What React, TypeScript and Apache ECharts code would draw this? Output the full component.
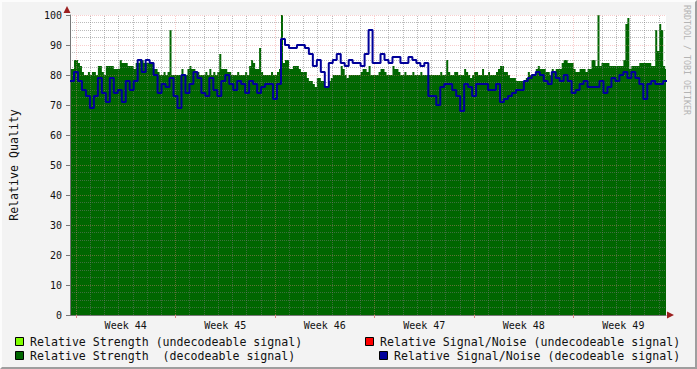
import React, { useEffect, useRef } from "react";
import * as echarts from "echarts";

// Week labels on the time axis
const WEEKS = ["Week 44", "Week 45", "Week 46", "Week 47", "Week 48", "Week 49"];

// Relative Strength (decodeable signal) – one value per sample (fine sampling)
const GREEN = [
  82, 82, 85, 85, 84, 83, 81, 80, 80, 81, 80, 81, 81, 80, 83, 83, 81, 80, 83, 83,
  83, 83, 82, 82, 82, 85, 84, 84, 84, 83, 83, 83, 82, 84, 84, 85, 85, 84, 84, 84,
  84, 84, 82, 82, 81, 80, 80, 81, 80, 81, 95, 80, 80, 80, 80, 80, 82, 80, 80, 82,
  83, 82, 82, 81, 81, 80, 80, 80, 81, 80, 82, 80, 81, 80, 81, 87, 82, 82, 82, 81,
  81, 80, 80, 80, 81, 80, 80, 80, 81, 80, 83, 85, 84, 82, 82, 89, 81, 80, 80, 80,
  80, 81, 80, 80, 81, 82, 100, 84, 85, 85, 82, 82, 83, 83, 83, 82, 81, 81, 81, 79,
  78, 78, 77, 76, 79, 79, 78, 78, 76, 76, 78, 79, 80, 80, 80, 80, 83, 82, 80, 79,
  80, 80, 80, 80, 80, 80, 81, 82, 82, 81, 83, 80, 80, 80, 80, 81, 82, 82, 81, 80,
  80, 80, 83, 82, 82, 81, 80, 80, 81, 80, 80, 80, 81, 80, 80, 80, 81, 80, 80, 80,
  80, 80, 80, 80, 80, 80, 81, 80, 80, 85, 81, 80, 80, 81, 81, 80, 80, 80, 82, 81,
  80, 79, 80, 81, 81, 80, 80, 82, 80, 80, 81, 80, 80, 80, 81, 82, 83, 83, 81, 81,
  80, 79, 79, 79, 78, 78, 78, 78, 78, 79, 81, 80, 80, 80, 82, 83, 82, 82, 82, 81,
  81, 80, 82, 81, 82, 82, 82, 84, 85, 85, 84, 84, 84, 82, 81, 81, 82, 82, 82, 81,
  82, 82, 85, 85, 83, 100, 83, 84, 84, 84, 84, 83, 83, 83, 83, 83, 83, 83, 85, 97,
  99, 82, 83, 83, 83, 83, 84, 84, 84, 84, 84, 84, 83, 83, 95, 88, 97, 95, 83, 82,
];

// Relative Signal/Noise (decodeable signal)
const BLUE = [
  78, 81, 78, 75, 73, 69, 73, 79, 74, 71,
  79, 74, 75, 71, 78, 75, 78, 85, 81, 85,
  84, 80, 74, 77, 76, 79, 73, 69, 80, 74,
  77, 81, 79, 74, 73, 79, 75, 73, 78, 80,
  77, 75, 78, 77, 74, 78, 77, 74, 76, 77,
  77, 72, 77, 92, 90, 89, 89, 90, 90, 89,
  87, 83, 85, 81, 76, 84, 85, 87, 84, 83,
  85, 84, 84, 83, 87, 95, 84, 84, 87, 85,
  84, 86, 86, 84, 84, 86, 85, 84, 83, 84,
  73, 73, 70, 76, 77, 77, 75, 73, 68, 77,
  76, 73, 77, 77, 77, 75, 75, 77, 71, 72,
  73, 74, 75, 75, 78, 79, 80, 81, 80, 78,
  77, 81, 79, 78, 80, 78, 74, 75, 77, 78,
  76, 76, 76, 78, 74, 76, 79, 78, 80, 81,
  79, 81, 79, 77, 72, 77, 78, 77, 77, 78,
];

// Time axis, in hours from the start of week 44
const START_H = -10;
const END_H = 996;
const STEP_GREEN_H = 3.36; // sampling interval, strength
const STEP_BLUE_H = 6.72; // sampling interval, signal/noise
const WEEK_H = 168;
const DAY_H = 24;

const LEGEND_ROWS = [
  { label: "Relative Strength (undecodeable signal)", color: "#80ff00" },
  { label: "Relative Strength  (decodeable signal)", color: "#006600" },
  { label: "Relative Signal/Noise (undecodeable signal)", color: "#ff0000" },
  { label: "Relative Signal/Noise (decodeable signal)", color: "#000099" },
];

const FONT = "DejaVu Sans Mono";

export default function App() {
  const ref = useRef<HTMLDivElement>(null);

  useEffect(() => {
    document.body.style.margin = "0";
    const chart = echarts.init(ref.current!, null, { renderer: "svg" });

    const toSeries = (arr: number[], step: number) => {
      const d = arr.map((v, i) => [START_H + i * step, v]);
      d.push([START_H + arr.length * step, arr[arr.length - 1]]);
      return d;
    };

    const weekLines: number[] = [];
    for (let h = 0; h <= END_H; h += WEEK_H) weekLines.push(h);
    const dayLines: number[] = [];
    for (let h = 0; h <= END_H; h += DAY_H) if (h % WEEK_H !== 0) dayLines.push(h);
    const labelPos = WEEKS.map((_, k) => WEEK_H / 2 + k * WEEK_H);

    const major = "rgba(240,130,130,0.4)";
    const minor = "rgba(120,120,120,0.5)";

    const legendGraphics: any[] = [];
    const legendPos = [
      { bx: 15, by: 337, tx: 30, ty: 341.5 },
      { bx: 15, by: 351, tx: 30, ty: 355.5 },
      { bx: 365, by: 337, tx: 380, ty: 341.5 },
      { bx: 379, by: 351, tx: 394, ty: 355.5 },
    ];
    LEGEND_ROWS.forEach((r, k) => {
      const p = legendPos[k];
      legendGraphics.push({
        type: "rect",
        shape: { x: p.bx + 0.5, y: p.by + 0.5, width: 8, height: 8 },
        style: { fill: r.color, stroke: "#000", lineWidth: 1 },
      });
      legendGraphics.push({
        type: "text",
        x: p.tx,
        y: p.ty,
        style: {
          text: r.label,
          font: `11.6px "${FONT}"`,
          fill: "#111",
          textAlign: "left",
          textVerticalAlign: "middle",
          align: "left",
          verticalAlign: "middle",
        },
      });
    });

    const vLines = (vals: number[], color: string) => ({
      type: "line",
      data: [],
      z: 3,
      silent: true,
      markLine: {
        silent: true,
        z: 3,
        symbol: ["none", "none"],
        label: { show: false },
        emphasis: { disabled: true },
        lineStyle: { color, type: [1, 1], width: 1 },
        data: vals.map((h) => ({ xAxis: h })),
      },
    });

    chart.setOption({
      animation: false,
      backgroundColor: "#f3f3f3",
      textStyle: { fontFamily: FONT },
      grid: {
        left: 67,
        right: 31,
        top: 15,
        bottom: 54,
        show: true,
        backgroundColor: "#ffffff",
        borderWidth: 0,
      },
      xAxis: {
        type: "value",
        min: START_H,
        max: END_H,
        z: 3,
        axisLine: { show: true, onZero: false, lineStyle: { color: "#777", width: 1 } },
        axisTick: {
          show: true,
          customValues: weekLines,
          length: 3,
          lineStyle: { color: "#d88" },
        },
        axisLabel: {
          show: true,
          customValues: labelPos,
          formatter: (v: number) => WEEKS[Math.round((v - WEEK_H / 2) / WEEK_H)],
          color: "#111",
          fontSize: 10,
          fontFamily: FONT,
          margin: 5,
        },
        splitLine: { show: false },
      },
      yAxis: {
        type: "value",
        min: 0,
        max: 100,
        interval: 10,
        z: 3,
        axisLine: { show: true, onZero: false, lineStyle: { color: "#777", width: 1 } },
        axisTick: { show: true, length: 4, lineStyle: { color: "#777" } },
        axisLabel: { color: "#111", fontSize: 10, fontFamily: FONT, margin: 8 },
        splitLine: { show: true, lineStyle: { color: major, type: [1, 1], width: 1 } },
        minorTick: { show: false, splitNumber: 4 },
        minorSplitLine: { show: true, lineStyle: { color: minor, type: [1, 1], width: 1 } },
        name: "Relative Quality",
        nameLocation: "middle",
        nameGap: 50,
        nameTextStyle: { fontFamily: FONT, fontSize: 11.6, color: "#111" },
      },
      series: [
        {
          name: "Relative Strength  (decodeable signal)",
          type: "line",
          step: "end",
          symbol: "none",
          z: 2,
          lineStyle: { width: 0 },
          areaStyle: { color: "#006600", opacity: 1 },
          data: toSeries(GREEN, STEP_GREEN_H),
        },
        vLines(dayLines, minor),
        vLines(weekLines, major),
        {
          name: "Relative Signal/Noise (decodeable signal)",
          type: "line",
          step: "end",
          symbol: "none",
          z: 4,
          lineStyle: { color: "#000099", width: 2 },
          data: toSeries(BLUE, STEP_BLUE_H),
        },
      ],
      graphic: [
        ...legendGraphics,
        {
          type: "polygon",
          shape: { points: [[63.5, 13], [70.5, 13], [67, 6]] },
          style: { fill: "#9c2020" },
          z: 10,
        },
        {
          type: "polygon",
          shape: { points: [[667, 311.5], [667, 318.5], [674, 315]] },
          style: { fill: "#9c2020" },
          z: 10,
        },
        {
          type: "text",
          x: 687,
          y: 5,
          rotation: -Math.PI / 2,
          style: {
            text: "RRDTOOL / TOBI OETIKER",
            font: `8.3px "${FONT}"`,
            fill: "#b4b4b4",
            textAlign: "left",
            textVerticalAlign: "middle",
            align: "left",
            verticalAlign: "middle",
          },
        },
      ],
    });

    return () => chart.dispose();
  }, []);

  return (
    <div style={{ position: "relative", width: 697, height: 369 }}>
      <div ref={ref} style={{ width: 697, height: 369 }} />
      <div
        style={{
          position: "absolute",
          left: 0,
          top: 0,
          width: 697,
          height: 369,
          boxSizing: "border-box",
          borderTop: "2px solid #fcfcfc",
          borderLeft: "2px solid #fcfcfc",
          borderRight: "2px solid #9e9e9e",
          borderBottom: "2px solid #9e9e9e",
          pointerEvents: "none",
        }}
      />
    </div>
  );
}
